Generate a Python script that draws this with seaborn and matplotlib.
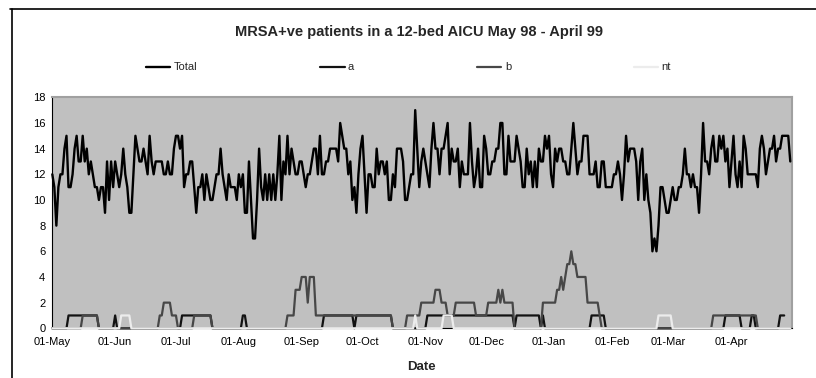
import matplotlib
matplotlib.use("Agg")
import matplotlib.pyplot as plt
from matplotlib.lines import Line2D
import numpy as np
import pandas as pd
import seaborn as sns

nan = float("nan")

# ---------------- data (daily values, 01-May-1998 .. 30-Apr-1999) ----------------
total_may = [12, 11, 8, 11, 12, 12, 14, 15, 11, 11, 12, 14, 15, 13, 13, 15, 13, 14, 12, 13,
             12, 11, 11, 10, 11, 11, 9, 13, 10, 13, 11]
total_jun = [13, 12, 11, 12, 14, 12, 11, 9, 9, 12, 15, 14, 13, 13, 14, 13, 12, 15, 13, 12,
             13, 13, 13, 13, 12, 12, 13, 12, 12, 14]
total_jul = [15, 15, 14, 15, 11, 12, 12, 13, 13, 11, 9, 11, 11, 12, 10, 12, 11, 10, 10, 11,
             12, 12, 14, 12, 11, 10, 12, 11, 11, 11, 10]
total_aug = [12, 11, 12, 9, 9, 13, 10, 7, 7, 10, 14, 11, 10, 12, 10, 12, 10, 12, 10, 12,
             15, 10, 13, 12, 15, 12, 14, 13, 12, 12, 13]
total_sep = [13, 12, 11, 12, 12, 13, 14, 14, 12, 15, 12, 12, 13, 13, 14, 14, 14, 14, 13, 16,
             15, 14, 14, 12, 13, 10, 11, 9, 12, 14]
total_oct = [15, 12, 9, 12, 12, 11, 11, 14, 12, 13, 13, 12, 13, 10, 10, 12, 11, 14, 14, 14,
             13, 10, 10, 11, 12, 12, 17, 14, 11, 13, 14]
total_nov = [13, 12, 11, 14, 16, 14, 14, 12, 14, 14, 15, 16, 12, 14, 13, 13, 14, 11, 13, 12,
             12, 12, 16, 13, 11, 12, 14, 11, 11, 15]
total_dec = [14, 12, 12, 13, 13, 14, 14, 16, 16, 12, 12, 15, 13, 13, 13, 15, 14, 13, 11, 11,
             14, 12, 13, 11, 13, 11, 14, 13, 13, 15, 14]
total_jan = [15, 12, 11, 14, 13, 14, 14, 13, 13, 12, 12, 14, 16, 14, 12, 13, 13, 15, 15, 15,
             12, 12, 12, 13, 11, 11, 13, 13, 11, 11, 11]
total_feb = [11, 12, 12, 13, 12, 10, 12, 15, 13, 14, 14, 14, 13, 10, 13, 14, 10, 12, 10, 9,
             6, 7, 6, 8, 11, 11, 10, 9]
total_mar = [9, 10, 11, 10, 10, 11, 11, 12, 14, 12, 12, 11, 12, 11, 11, 9, 12, 16, 13, 13,
             12, 14, 15, 13, 13, 15, 14, 15, 13, 14, 11]
total_apr = [13, 15, 12, 11, 13, 11, 15, 14, 12, 12, 12, 12, 12, 11, 14, 15, 14, 12, 13, 14,
             14, 15, 13, 14, 14, 15, 15, 15, 15, 13]

a_may = [0, 0, 0, 0, 0, 0, 0, 0, 1, 1,
         1, 1, 1, 1, 1, 1, 1, 1, 1, 1,
         1, 1, 1, 0, 0, 0, 0, 0, 0, 0,
         0]
a_jun = [1, 0, 0, 0, 0, 0, 0, 0, 0, 0,
         0, 0, 0, 0, 0, 0, 0, 0, 0, 0,
         0, 0, 0, 0, 0, 0, 0, 0, 0, 0]
a_jul = [0, 0, 0, 1, 1, 1, 1, 1, 1, 1,
         1, 1, 1, 1, 1, 1, 1, 1, 0, 0,
         0, 0, 0, 0, 0, 0, 0, 0, 0, 0,
         0]
a_aug = [0, 0, 1, 1, 0, 0, 0, 0, 0, 0,
         0, 0, 0, 0, 0, 0, 0, 0, 0, 0,
         0, 0, 0, 0, 0, 0, 0, 0, 0, 0,
         0]
a_sep = [0, 0, 0, 0, 0, 0, 0, 0, 0, 0,
         0, 1, 1, 1, 1, 1, 1, 1, 1, 1,
         1, 1, 1, 1, 1, 1, 0, 1, 1, 1]
a_oct = [1, 1, 1, 1, 1, 1, 1, 1, 1, 1,
         1, 1, 1, 1, 1, 0, 0, 0, 0, 0,
         0, 0, 0, 0, 0, 0, 0, 0, 0, 0,
         0]
a_nov = [0, 1, 1, 1, 1, 1, 1, 1, 1, 1,
         1, 1, 1, 1, 1, 1, 1, 1, 1, 1,
         1, 1, 1, 1, 1, 1, 1, 1, 1, 1]
a_dec = [1, 1, 1, 1, 1, 1, 1, 1, 1, 1,
         1, 1, 1, 1, 0, 1, 1, 1, 1, 1,
         1, 1, 1, 1, 1, 1, 1, 0, 1, 0,
         0]
a_jan = [0, 0, 0, 0, 0, 0, 0, 0, 0, 0,
         0, 0, 0, 0, 0, 0, 0, 0, 0, 0,
         0, 1, 1, 1, 1, 1, 1, 1, 0, 0,
         0]
a_feb = [0, 0, 0, 0, 0, 0, 0, 0, 0, 0,
         0, 0, 0, 0, 0, 0, 0, 0, 0, 0,
         0, 0, 0, 0, 0, 0, 0, 0]
a_mar = [0, 0, 0, 0, 0, 0, 0, 0, 0, 0,
         0, 0, 0, 0, 0, 0, 0, 0, 0, 0,
         0, 0, 0, 0, 0, 0, 0, 0, 1, 1,
         1]
a_apr = [1, 1, 1, 1, 1, 0, 0, 0, 0, 0,
         1, 1, 0, 0, 0, 0, 0, 0, 0, 0,
         0, 0, 0, 0, 1, 1, 1, nan, nan, nan]

b_may = [0, 0, 0, 0, 0, 0, 0, 0, 0, 0,
         0, 0, 0, 0, 0, 1, 1, 1, 1, 1,
         1, 1, 1, 0, 0, 0, 0, 0, 0, 0,
         0]
b_jun = [0, 0, 0, 0, 0, 0, 0, 0, 0, 0,
         0, 0, 0, 0, 0, 0, 0, 0, 0, 0,
         0, 0, 1, 1, 2, 2, 2, 2, 1, 1]
b_jul = [1, 0, 0, 0, 0, 0, 0, 0, 0, 1,
         1, 1, 1, 1, 1, 1, 1, 1, 0, 0,
         0, 0, 0, 0, 0, 0, 0, 0, 0, 0,
         0]
b_aug = [0, 0, 0, 0, 0, 0, 0, 0, 0, 0,
         0, 0, 0, 0, 0, 0, 0, 0, 0, 0,
         0, 0, 0, 0, 1, 1, 1, 1, 3, 3,
         3]
b_sep = [4, 4, 4, 2, 4, 4, 4, 1, 1, 1,
         1, 1, 1, 1, 1, 1, 1, 1, 1, 1,
         1, 1, 1, 1, 1, 1, 1, 1, 1, 1]
b_oct = [1, 1, 1, 1, 1, 1, 1, 1, 1, 1,
         1, 1, 1, 1, 1, 0, 0, 0, 0, 0,
         0, 0, 1, 1, 1, 1, 1, 1, 1, 2,
         2]
b_nov = [2, 2, 2, 2, 2, 3, 3, 3, 2, 2,
         2, 1, 1, 1, 1, 2, 2, 2, 2, 2,
         2, 2, 2, 2, 2, 1, 1, 1, 1, 1]
b_dec = [1, 2, 2, 2, 2, 2, 3, 2, 3, 2,
         2, 2, 2, 2, 0, 0, 0, 0, 0, 0,
         0, 0, 0, 0, 0, 0, 0, 0, 2, 2,
         2]
b_jan = [2, 2, 2, 2, 3, 3, 4, 3, 4, 5,
         5, 6, 5, 5, 4, 4, 4, 4, 4, 2,
         2, 2, 2, 2, 2, 1, 0, 0, 0, 0,
         0]
b_feb = [0, 0, 0, 0, 0, 0, 0, 0, 0, 0,
         0, 0, 0, 0, 0, 0, 0, 0, 0, 0,
         0, 0, 0, 0, 0, 0, 0, 0]
b_mar = [0, 0, 0, 0, 0, 0, 0, 0, 0, 0,
         0, 0, 0, 0, 0, 0, 0, 0, 0, 0,
         0, 0, 1, 1, 1, 1, 1, 1, 1, 1,
         1]
b_apr = [1, 1, 1, 1, 1, 1, 1, 1, 1, 1,
         1, 1, 1, 0, 0, 0, 0, 0, 0, 0,
         0, 0, 0, 0, 0, 0, 0, 0, 0, 0]

nt_may = [0, 0, 0, 0, 0, 0, 0, 0, 0, 0,
          0, 0, 0, 0, 0, 0, 0, 0, 0, 0,
          0, 0, 0, 0, 0, 0, 0, 0, 0, 0,
          0]
nt_jun = [0, 0, 0, 1, 1, 1, 1, 1, 0, 0,
          0, 0, 0, 0, 0, 0, 0, 0, 0, 0,
          0, 0, 0, 0, 0, 0, 0, 0, 0, 0]
nt_jul = [0, 0, 0, 0, 0, 0, 0, 0, 0, 0,
          0, 0, 0, 0, 0, 0, 0, 0, 0, 0,
          0, 0, 0, 0, 0, 0, 0, 0, 0, 0,
          0]
nt_aug = [0, 0, 0, 0, 0, 0, 0, 0, 0, 0,
          0, 0, 0, 0, 0, 0, 0, 0, 0, 0,
          0, 0, 0, 0, 0, 0, 0, 0, 0, 0,
          0]
nt_sep = [0, 0, 0, 0, 0, 0, 0, 0, 0, 0,
          0, 0, 0, 0, 0, 0, 0, 0, 0, 0,
          0, 0, 0, 0, 0, 0, 0, 0, 0, 0]
nt_oct = [0, 0, 0, 0, 0, 0, 0, 0, 0, 0,
          0, 0, 0, 0, 0, 0, 0, 0, 0, 0,
          0, 0, 0, 0, 0, 0, 1, 0, 0, 0,
          0]
nt_nov = [0, 0, 0, 0, 0, 0, 0, 0, 0, 1,
          1, 1, 1, 1, 0, 0, 0, 0, 0, 0,
          0, 0, 0, 0, 0, 0, 0, 0, 0, 0]
nt_dec = [0, 0, 0, 0, 0, 0, 0, 0, 0, 0,
          0, 0, 0, 0, 0, 0, 0, 0, 0, 0,
          0, 0, 0, 0, 0, 0, 0, 0, 0, 0,
          0]
nt_jan = [0, 0, 0, 0, 0, 0, 0, 0, 0, 0,
          0, 0, 0, 0, 0, 0, 0, 0, 0, 0,
          0, 0, 0, 0, 0, 0, 0, 0, 0, 0,
          0]
nt_feb = [0, 0, 0, 0, 0, 0, 0, 0, 0, 0,
          0, 0, 0, 0, 0, 0, 0, 0, 0, 0,
          0, 0, 0, 1, 1, 1, 1, 1]
nt_mar = [1, 1, 0, 0, 0, 0, 0, 0, 0, 0,
          0, 0, 0, 0, 0, 0, 0, 0, 0, 0,
          0, 0, 0, 0, 0, 0, 0, 0, 0, 0,
          0]
nt_apr = [0, 0, 0, 0, 0, 0, 0, 0, 0, 0,
          0, 0, 0, 0, 0, 0, 0, 0, 0, 0,
          0, 0, 0, 0, 0, 0, 0, 0, 0, 0]

month_labels = ["01-May", "01-Jun", "01-Jul", "01-Aug", "01-Sep", "01-Oct",
                "01-Nov", "01-Dec", "01-Jan", "01-Feb", "01-Mar", "01-Apr"]
series_names = ["Total", "a", "b", "nt"]
title_text = "MRSA+ve patients in a 12-bed AICU May 98 - April 99"

total = (total_may + total_jun + total_jul + total_aug + total_sep + total_oct +
         total_nov + total_dec + total_jan + total_feb + total_mar + total_apr)
a = (a_may + a_jun + a_jul + a_aug + a_sep + a_oct + a_nov + a_dec + a_jan +
     a_feb + a_mar + a_apr)
b = (b_may + b_jun + b_jul + b_aug + b_sep + b_oct + b_nov + b_dec + b_jan +
     b_feb + b_mar + b_apr)
nt = (nt_may + nt_jun + nt_jul + nt_aug + nt_sep + nt_oct + nt_nov + nt_dec +
      nt_jan + nt_feb + nt_mar + nt_apr)

dates = pd.date_range("1998-05-01", periods=len(total), freq="D")
df = pd.DataFrame({"Date": dates, "Total": total, "a": a, "b": b, "nt": nt})

# ---------------- style ----------------
sns.set_style("white")
plt.rcParams["font.family"] = ["Liberation Sans", "DejaVu Sans"]

W, H = 816, 378
fig = plt.figure(figsize=(W / 100, H / 100), dpi=100)
x0, x1, ytop, ybot = 52.3, 792.3, 97.3, 328.3
ax = fig.add_axes([x0 / W, 1 - ybot / H, (x1 - x0) / W, (ybot - ytop) / H])
ax.set_facecolor("#c0c0c0")

styles = {
    "Total": ("#000000", 1.7, 3),
    "a": ("#121212", 1.6, 4),
    "b": ("#474747", 1.6, 5),
    "nt": ("#ececec", 1.6, 6),
}
handles = []
for name in series_names:
    color, lw, z = styles[name]
    sns.lineplot(data=df, x="Date", y=name, ax=ax, color=color, linewidth=lw,
                 zorder=z, legend=False, estimator=None)
    handles.append(Line2D([0], [0], color=color, lw=lw))
for ln in ax.lines:
    ln.set_clip_on(False)

ax.set_xlim(pd.Timestamp("1998-05-01"), pd.Timestamp("1999-05-01"))
ax.set_ylim(0, 18)
ax.set_yticks(range(0, 19, 2))
ticks = pd.date_range("1998-05-01", "1999-05-01", freq="MS")
ax.set_xticks(ticks)
ax.set_xticklabels(month_labels + [""])
ax.set_xlabel("")
ax.set_ylabel("")

for side in ["top", "right"]:
    ax.spines[side].set_color("#a0a0a0")
    ax.spines[side].set_linewidth(1.5)
for side in ["left", "bottom"]:
    ax.spines[side].set_color("black")
    ax.spines[side].set_linewidth(0.8)
ax.tick_params(axis="both", direction="out", length=2.5, width=0.8,
               color="black", labelsize=8, labelcolor="black")
ax.tick_params(axis="x", pad=4)
ax.tick_params(axis="y", pad=2.5)

fig.text(419 / W, 1 - 32 / H, title_text, ha="center", va="center",
         fontsize=10.5, fontweight="bold")
fig.text(421.7 / W, 1 - 366.7 / H, "Date", ha="center", va="center",
         fontsize=9.5, fontweight="bold")

fig.legend(handles, series_names, loc="center",
           bbox_to_anchor=(146 / W, 1 - 75 / H, (671 - 146) / W, 15 / H),
           mode="expand", ncol=4, frameon=False, fontsize=8,
           handlelength=2.2, handletextpad=0.3, borderaxespad=0, borderpad=0)

# outer chart frame (top and left edges visible in the crop)
fig.add_artist(Line2D([10 / W, 1], [1 - 9.3 / H, 1 - 9.3 / H],
                      transform=fig.transFigure, color="black", lw=1.2))
fig.add_artist(Line2D([11.7 / W, 11.7 / W], [1 - 9.3 / H, 0],
                      transform=fig.transFigure, color="black", lw=1.2))

fig.savefig("out.png", dpi=100)
